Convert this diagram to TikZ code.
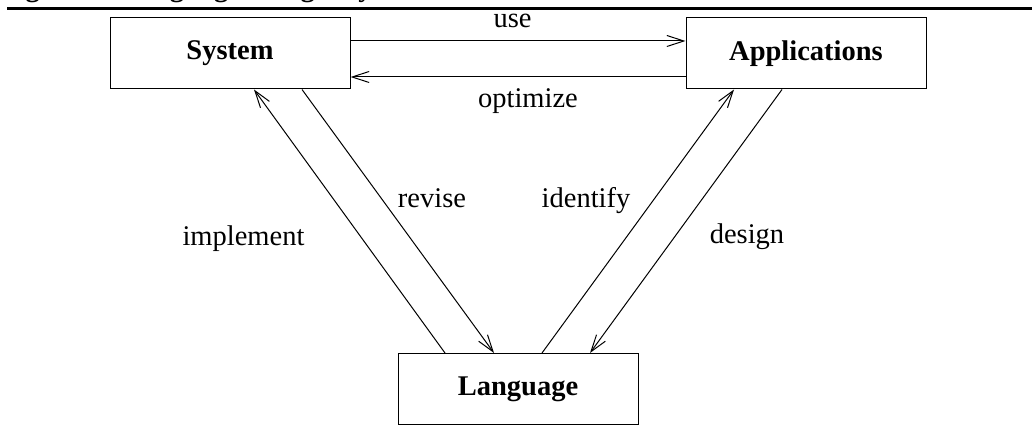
\documentclass[tikz,border=0pt]{standalone}
\usepackage{fontspec}
\setmainfont{Liberation Serif}
\usetikzlibrary{arrows.meta}
\tikzset{
  block/.style={draw, line width=1pt, minimum width=240pt, minimum height=71pt,
                inner sep=0pt, font=\fontsize{28.5}{34}\selectfont\bfseries},
  flow/.style={line width=1pt, -{Straight Barb[length=17pt,width=11pt,line width=1pt]}},
  lbl/.style={anchor=base, inner sep=0pt, font=\fontsize{28.5}{34}\selectfont}
}
\begin{document}
\begin{tikzpicture}[x=1pt, y=-1pt]
  \useasboundingbox (0,0) rectangle (1032,427);
  \begin{scope}
    \clip (0,0) rectangle (1032,427);
    \node[anchor=base west, inner sep=0pt, font=\fontsize{28.5}{34}\selectfont\bfseries]
      (cap) at (0,-3) {Figure 1: Language Design Cycle};
  \end{scope}
  \draw[line width=2.6pt] (7,8.5) -- (1032,8.5);

  \node[block] (sys)  at (230,53.5) {System};
  \node[block] (app)  at (806,53.5) {Applications};
  \node[block] (lang) at (518,389)  {Language};

  % between System and Applications
  \draw[flow] ([yshift=12.5pt]sys.east) -- ([yshift=12.5pt]app.west);
  \draw[flow] ([yshift=-23.5pt]app.west) -- ([yshift=-23.5pt]sys.east);

  % between System and Language
  \draw[flow] ([xshift=-73pt]lang.north) -- ([xshift=24pt]sys.south);
  \draw[flow] ([xshift=72pt]sys.south) -- ([xshift=-24pt]lang.north);

  % between Language and Applications
  \draw[flow] ([xshift=24pt]lang.north) -- ([xshift=-72pt]app.south);
  \draw[flow] ([xshift=-24pt]app.south) -- ([xshift=72pt]lang.north);

  \node[lbl] (use)  at (512.5,28)  {use};
  \node[lbl] (opt)  at (528,108)   {optimize};
  \node[lbl] (impl) at (243.5,246) {implement};
  \node[lbl] (rev)  at (432,208)   {revise};
  \node[lbl] (idf)  at (586,208)   {identify};
  \node[lbl] (des)  at (747,244)   {design};
\end{tikzpicture}
\end{document}
